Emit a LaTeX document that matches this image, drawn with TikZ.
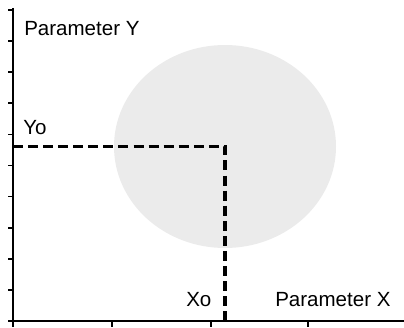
\documentclass[tikz,border=0pt]{standalone}
\usepackage{fontspec}
\setmainfont{Liberation Sans}
\usepackage{xcolor}
\usepackage{tikz}
\usetikzlibrary{shapes.geometric}

\definecolor{regiongray}{HTML}{EBEBEB}

\begin{document}
\begin{tikzpicture}[
  x=0.75pt,y=-0.75pt,
  axis/.style={line width=1.6pt,black},
  tickmark/.style={line width=1.2pt,black},
  guide/.style={line width=2.3pt,black,dash pattern=on 7.5pt off 3.8pt},
  region/.style={ellipse,fill=regiongray,draw=none,inner sep=0pt,
                 minimum width=166.5pt,minimum height=152.25pt},
  lbl/.style={font=\fontsize{15.4}{18}\selectfont,anchor=base west,
              inner sep=0pt,text=black}
]
\useasboundingbox (0,0) rectangle (404,328);

%% Tolerance region
\node[region] (zone) at (225,146.5) {};

%% Axes
\coordinate (origin) at (13,321);
\coordinate (ytop)   at (13,8);
\coordinate (xend)   at (404,321);
\draw[axis] (ytop) -- (origin) -- (xend);

%% Ticks
\foreach \i in {0,...,10}
  \draw[tickmark] (13,321-31.1*\i) -- ++(-5,0);
\foreach \x in {13,112,211,308}
  \draw[tickmark] (\x,321) -- ++(0,6);

%% Nominal point guides
\draw[guide] (zone.center -| origin) -- (zone.center) -- (zone.center |- origin);

%% Labels
\node[lbl] (ylab) at (24,36)    {Parameter Y};
\node[lbl] (yo)   at (23,135)   {Yo};
\node[lbl] (xo)   at (186,306.5) {Xo};
\node[lbl] (xlab) at (275,306.5) {Parameter X};
\end{tikzpicture}
\end{document}
